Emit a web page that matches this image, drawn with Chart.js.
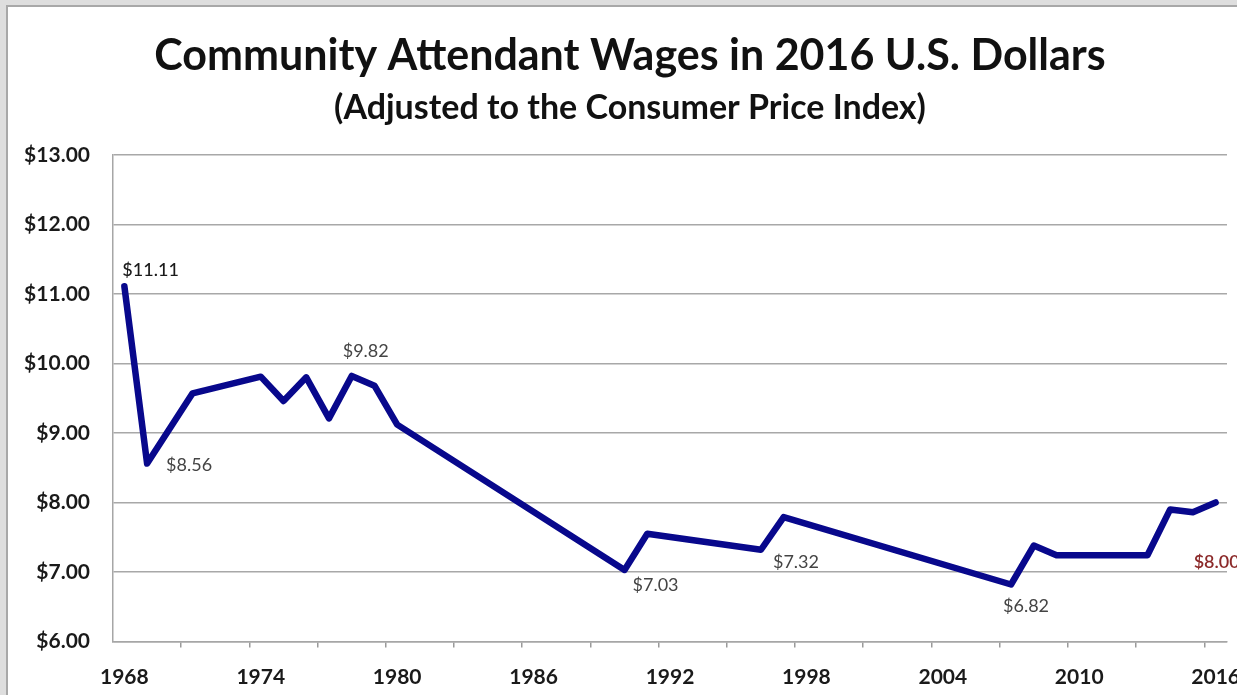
<!DOCTYPE html>
<html>
<head>
<meta charset="utf-8">
<title>Community Attendant Wages</title>
<script src="https://cdn.jsdelivr.net/npm/chart.js@4.4.1/dist/chart.umd.min.js"></script>
<style>
  html, body { margin: 0; padding: 0; background: #dedede; overflow: hidden; }
  #frame {
    position: absolute; left: 6px; top: 5px;
    width: 1250px; height: 700px;
    background: #fff;
    border-left: 2px solid #a8a8a8;
    border-top: 2px solid #a8a8a8;
  }
  canvas { display: block; }
</style>
</head>
<body>
<div id="frame"><canvas id="wages" width="1244" height="688"></canvas></div>
<script>
// Wage data (2016 dollars)
const years = [1968, 1969, 1971, 1974, 1975, 1976, 1977, 1978, 1979, 1980,
               1990, 1991, 1996, 1997, 2007, 2008, 2009, 2010, 2011, 2012,
               2013, 2014, 2015, 2016];
const wages = [11.11, 8.56, 9.57, 9.81, 9.46, 9.80, 9.21, 9.82, 9.68, 9.12,
               7.03, 7.55, 7.32, 7.79, 6.82, 7.38, 7.24, 7.24, 7.24, 7.24,
               7.24, 7.90, 7.86, 8.00];

// Axis labels and tick marks
const axisYears = [1968, 1974, 1980, 1986, 1992, 1998, 2004, 2010, 2016];
const minorTickYears = [1970.5, 1973.5, 1976.5, 1979.5, 1982.5, 1985.5, 1988.5, 1991.5,
                        1994.5, 1997.5, 2000.5, 2003.5, 2006.5, 2009.5, 2012.5, 2015.5];
const dollarTicks = [6, 7, 8, 9, 10, 11, 12, 13];

// Years whose value is written beside the line
const labelledYears = [1968, 1969, 1978, 1990, 1996, 2007, 2016];

// Where each value label sits relative to its point
const labelStyle = {
    1968: { dx: -2,  dy: -16, color: '#1a1a1a', weight: '500' },
    1969: { dx: 19,  dy: 2,   color: '#444444', weight: 'normal' },
    1978: { dx: -9,  dy: -25, color: '#444444', weight: 'normal' },
    1990: { dx: 8,   dy: 15,  color: '#444444', weight: 'normal' },
    1996: { dx: 12,  dy: 12,  color: '#444444', weight: 'normal' },
    2007: { dx: -8,  dy: 22,  color: '#444444', weight: 'normal' },
    2016: { dx: -22, dy: 60,  color: '#8c2a2a', weight: '600' }
};

const valueLabels = {
    id: 'valueLabels',
    afterDatasetsDraw(chart) {
        const ctx = chart.ctx;
        const meta = chart.getDatasetMeta(0);
        ctx.save();
        ctx.textAlign = 'left';
        ctx.textBaseline = 'middle';
        labelledYears.forEach(function(year) {
            const i = years.indexOf(year);
            const pt = meta.data[i];
            const st = labelStyle[year];
            ctx.font = st.weight + ' 18px Lato';
            ctx.fillStyle = st.color;
            ctx.fillText('$' + wages[i].toFixed(2), pt.x + st.dx, pt.y + st.dy);
        });
        ctx.restore();
    }
};

const boldFont = { family: 'Lato', size: 21, weight: 'bold' };

new Chart(document.getElementById('wages'), {
    type: 'line',
    data: {
        datasets: [{
            data: years.map((y, i) => ({ x: y, y: wages[i] })),
            borderColor: '#08088c',
            borderWidth: 6.5,
            borderJoinStyle: 'round',
            borderCapStyle: 'round',
            pointRadius: 0,
            tension: 0,
            fill: false
        }]
    },
    options: {
        responsive: false,
        animation: false,
        layout: { padding: 0 },
        plugins: {
            legend: { display: false },
            tooltip: { enabled: false },
            title: {
                display: true,
                text: 'Community Attendant Wages in 2016 U.S. Dollars',
                color: '#111',
                font: { family: 'Lato', size: 43, weight: 'bold', lineHeight: 1.2 },
                padding: { top: 23.4, bottom: 0 }
            },
            subtitle: {
                display: true,
                text: '(Adjusted to the Consumer Price Index)',
                color: '#111',
                font: { family: 'Lato', size: 34, weight: 'bold', lineHeight: 1.2 },
                padding: { top: 5.7, bottom: 26.4 }
            }
        },
        scales: {
            x: {
                type: 'linear',
                min: 1967.5,
                max: 2016.5,
                afterBuildTicks: function(scale) {
                    scale.ticks = axisYears.concat(minorTickYears)
                        .sort((a, b) => a - b)
                        .map(v => ({ value: v }));
                },
                // the right gap is set here so the titles stay centred on the whole canvas
                afterFit: function(scale) {
                    scale.height = 53.5;
                    scale.paddingLeft = 0;
                    scale.paddingRight = 25;
                },
                grid: {
                    drawOnChartArea: false,
                    tickLength: 6,
                    lineWidth: 1.5,
                    color: ctx => (ctx.tick && axisYears.includes(ctx.tick.value)) ? 'rgba(0,0,0,0)' : '#9a9a9a'
                },
                border: { display: true, color: '#a6a6a6', width: 1.5 },
                ticks: {
                    autoSkip: false,
                    maxRotation: 0,
                    padding: 17,
                    color: '#1a1a1a',
                    font: boldFont,
                    callback: v => axisYears.includes(v) ? String(v) : ''
                }
            },
            y: {
                min: 6,
                max: 13,
                afterBuildTicks: function(scale) {
                    scale.ticks = dollarTicks.map(v => ({ value: v }));
                },
                afterFit: function(scale) { scale.width = 105; },
                grid: { color: '#a8a8a8', lineWidth: 1.5, drawTicks: false },
                border: { display: true, color: '#a6a6a6', width: 1.5 },
                ticks: {
                    padding: 23,
                    color: '#1a1a1a',
                    font: boldFont,
                    callback: v => '$' + v.toFixed(2)
                }
            }
        }
    },
    plugins: [valueLabels]
});
</script>
</body>
</html>
